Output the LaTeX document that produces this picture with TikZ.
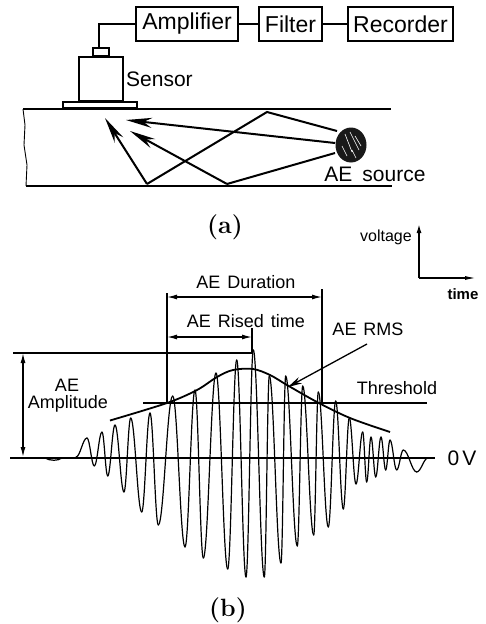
\documentclass[tikz,border=0pt]{standalone}
\usepackage{fontspec}
\setmainfont{Liberation Sans}
\newfontfamily\capfont{Latin Modern Roman}
\usetikzlibrary{arrows.meta,calc,shapes.geometric}
\tikzset{
  boxnode/.style={draw,line width=1.6pt,minimum height=34pt,inner sep=0pt,font=\fontsize{23}{23}\selectfont},
  label1/.style={inner sep=0pt,font=\fontsize{21}{21}\selectfont},
  label2/.style={inner sep=0pt,font=\fontsize{18}{18}\selectfont},
  label3/.style={inner sep=0pt,font=\fontsize{16}{16}\selectfont},
  caption/.style={inner sep=0pt,font=\capfont\bfseries\fontsize{25}{25}\selectfont},
  wire/.style={line width=1.6pt},
  ray/.style={line width=2pt},
  rayhead/.style={ray,-{Stealth[length=26pt,width=10pt]}},
  thinl/.style={line width=1.1pt},
  dim/.style={line width=1.3pt,{Latex[length=10pt,width=5pt]}-{Latex[length=10pt,width=5pt]}},
  wave/.style={line width=1.2pt}
}
\begin{document}
\begin{tikzpicture}[x=1pt,y=-1pt]
\useasboundingbox (0,0) rectangle (485,624);
\fill[white] (0,0) rectangle (485,624);
% instrument chain
\node[boxnode,minimum width=102pt] (amp) at (187,24) {Amplifier};
\node[boxnode,minimum width=63pt] (fil) at (290.5,24) {Filter};
\node[boxnode,minimum width=105pt] (rec) at (400.5,24) {Recorder};
\draw[wire] (amp) -- (fil);
\draw[wire] (fil) -- (rec);
% sensor
\node[draw,line width=1.3pt,minimum width=16pt,minimum height=8pt,inner sep=0pt] (plug) at (101,52) {};
\node[draw,line width=1.4pt,minimum width=44pt,minimum height=44pt,inner sep=0pt] (sensor) at (101,79) {};
\node[draw,line width=1.4pt,minimum width=74pt,minimum height=6pt,inner sep=0pt] (base) at (100,105) {};
\draw[wire] (amp.west) -- (99,24) -- (99,48);
\node[label1,anchor=west] (senslab) at (126,79) {Sensor};
% specimen
\coordinate (tl) at (23,109); \coordinate (tr) at (391,109);
\coordinate (bl) at (26,186); \coordinate (br) at (392,186);
\draw[line width=1.6pt] (tl) -- (tr);
\draw[line width=2pt] (bl) -- (br);
\draw[line width=0.9pt] (tl) -- (25,125) -- (24,145) -- (27,165) -- (bl);
% source
\node[ellipse,fill=black!90,minimum width=31pt,minimum height=35pt,inner sep=0pt] (src) at (351,145) {};
\draw[white,line width=0.6pt] (345,134) -- (352,152) (350,132) -- (359,150) (355,136) -- (361,146) (342,146) -- (347,156) (352,150) -- (356,158);
\node[label1,anchor=center] (srclab) at (375,174) {AE\hspace{10pt}source};
% rays
\coordinate (r1) at (267,112); \coordinate (r2) at (147,184);
\coordinate (e1) at (105,118); \coordinate (e2) at (126,120); \coordinate (e3) at (130,131);
\coordinate (r3) at (227,184);
\coordinate (s1) at (337,131); \coordinate (s2) at (335,143); \coordinate (s3) at (335,153);
\draw[ray] (s1) -- (r1) -- (r2);
\draw[rayhead] (r2) -- (e1);
\draw[rayhead] (s2) -- (e2);
\draw[ray] (s3) -- (r3);
\draw[rayhead] (r3) -- (e3);
\node[caption] (cap1) at (225,227) {(a)};
% axes
\node[label3,anchor=center] (vlab) at (386,237) {voltage};
\node[label3,anchor=center,font=\bfseries\fontsize{15}{15}\selectfont] (tlab) at (463,294) {time};
\coordinate (ax) at (419,278); \coordinate (axv) at (419,224); \coordinate (axt) at (477,278);
\draw[line width=1.5pt,-{Latex[length=9pt,width=5pt]}] (ax) -- (axv);
\draw[line width=1.5pt,-{Latex[length=12pt,width=4pt]}] (ax) -- (axt);
% waveform
\coordinate (zl) at (10,458); \coordinate (zr) at (435,458);
\draw[line width=1.6pt] (zl) -- (zr);
\draw[wave] (45,458) .. controls (50,461) and (58,461) .. (62,458);
\foreach \x/\y [remember=\x as \px (initially 76), remember=\y as \py (initially 457)] in {
 87/438, 94.3/466, 102/432, 107.7/476, 115/425, 124/492, 130.7/418, 141.7/512, 150/413, 158.3/525,
 172.7/396, 185/547, 195/390, 203.3/558, 216/373, 227.7/569, 236.7/360, 246/577, 253.3/350, 264.3/577,
 269.3/376, 281/563, 285.7/376, 297.3/546, 302.7/386, 313.7/535, 318.3/392, 328.3/527, 335.7/401, 343.3/509,
 349.3/418, 356/484, 362.7/432, 366.7/482, 371/437, 375.7/477, 381/437, 385.7/470, 390/440, 396.7/470,
 403.3/450, 416.7/472, 428/458}
{
  \pgfmathsetmacro{\ca}{\px+0.38*(\x-\px)}
  \pgfmathsetmacro{\cb}{\x-0.38*(\x-\px)}
  \draw[wave,line cap=round] (\px,\py) .. controls (\ca,\py) and (\cb,\y) .. (\x,\y);
}
% envelope
\draw[line width=1.8pt] plot[smooth,tension=0.55] coordinates {(110,420.5) (167,403) (197,390) (217,377) (233,370) (253,369) (270,375) (287,385) (317,402) (350,418) (390,432)};
% threshold
\coordinate (thl) at (143,403); \coordinate (thr) at (427,403);
\draw[line width=1.3pt] (thl) -- (thr);
\node[label2,anchor=center] (thlab) at (397,388) {Threshold};
\node[label1,anchor=center] (zlab) at (462,458) {0\hspace{3pt}V};
% duration
\coordinate (d1) at (167,293); \coordinate (d1b) at (167,403);
\coordinate (d2) at (322,289); \coordinate (d2b) at (322,403);
\draw[thinl] (d1) -- (d1b);
\draw[thinl] (d2) -- (d2b);
\draw[dim] (167,297) -- (322,297);
\node[label2,anchor=center] (durlab) at (246,282) {AE\hspace{7pt}Duration};
% rise time
\coordinate (p1) at (252,328); \coordinate (p2) at (252,353);
\draw[thinl] (p1) -- (p2);
\draw[dim] (167,337) -- (252,337);
\node[label2,anchor=center] (riselab) at (246,321) {AE\hspace{7pt}Rised\hspace{7pt}time};
% amplitude
\coordinate (a1) at (13,353);
\draw[thinl] (a1) -- (252,353);
\draw[dim] (23,353) -- (23,457);
\node[label2,anchor=center] (aelab) at (67,385) {AE};
\node[label2,anchor=center] (amplab) at (68,404) {Amplitude};
% RMS
\node[label2,anchor=center] (rmslab) at (368,329) {AE\hspace{7pt}RMS};
\coordinate (rm1) at (367,344); \coordinate (rm2) at (288,387);
\draw[line width=1.3pt,-{Stealth[length=14pt,width=7pt]}] (rm1) -- (rm2);
\node[caption] (cap2) at (228,610) {(b)};
\end{tikzpicture}
\end{document}
